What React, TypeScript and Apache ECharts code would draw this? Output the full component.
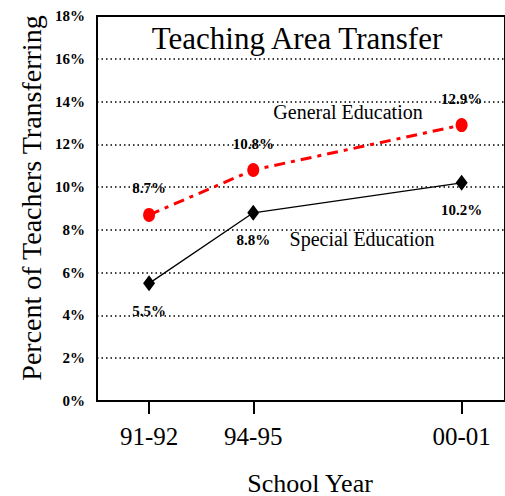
import React, { useEffect, useRef } from "react";
import * as echarts from "echarts";

const years = [1991, 1994, 2000];
const yearLabels = ["91-92", "94-95", "00-01"];
const generalEd = [8.7, 10.8, 12.9];
const specialEd = [5.5, 8.8, 10.2];
const yTicks = [0, 2, 4, 6, 8, 10, 12, 14, 16, 18];

const SERIF = "'Liberation Serif', 'Times New Roman', serif";

export default function App() {
  const ref = useRef<HTMLDivElement>(null);
  useEffect(() => {
    if (!ref.current) return;
    const chart = echarts.init(ref.current, undefined, { renderer: "svg" });
    const pct = (p: any) => p.value[1].toFixed(1) + "%";
    chart.setOption({
      animation: false,
      backgroundColor: "#fff",
      grid: {
        left: 97,
        right: -3,
        top: 16,
        bottom: 95,
        show: true,
        borderColor: "#000",
        borderWidth: 2,
        backgroundColor: "transparent",
      },
      xAxis: {
        type: "value",
        min: 1989.5,
        max: 2001.25,
        axisLine: { show: true, lineStyle: { color: "#000", width: 2 } },
        splitLine: { show: false },
        axisTick: {
          show: true,
          customValues: years,
          length: 13,
          lineStyle: { color: "#000", width: 2 },
        },
        axisLabel: {
          customValues: years,
          formatter: (v: number) => yearLabels[years.indexOf(v)] ?? "",
          fontFamily: SERIF,
          fontSize: 25,
          color: "#000",
          margin: 23,
        },
      },
      yAxis: {
        type: "value",
        min: yTicks[0],
        max: yTicks[yTicks.length - 1],
        interval: 2,
        axisLine: { show: true, lineStyle: { color: "#000", width: 2 } },
        axisTick: { show: false },
        splitLine: {
          show: true,
          lineStyle: { color: "#000", width: 1.5, type: [1.5, 3] },
        },
        axisLabel: {
          formatter: "{value}%",
          fontFamily: SERIF,
          fontWeight: "bold",
          fontSize: 15,
          color: "#000",
          margin: 12,
        },
      },
      series: [
        {
          name: "General Education",
          type: "line",
          data: years.map((y, i) => [y, generalEd[i]]),
          symbol: "circle",
          symbolSize: [12, 14],
          itemStyle: { color: "#ff0000" },
          lineStyle: { color: "#ff0000", width: 3, type: [11, 6, 4, 6] },
          label: {
            show: true,
            position: "top",
            distance: 12,
            formatter: pct,
            fontFamily: SERIF,
            fontWeight: "bold",
            fontSize: 15,
            color: "#000",
          },
          z: 3,
        },
        {
          name: "Special Education",
          type: "line",
          data: years.map((y, i) => [y, specialEd[i]]),
          symbol: "diamond",
          symbolSize: [12, 16],
          itemStyle: { color: "#000" },
          lineStyle: { color: "#000", width: 1.3 },
          label: {
            show: true,
            position: "bottom",
            distance: 12,
            formatter: pct,
            fontFamily: SERIF,
            fontWeight: "bold",
            fontSize: 15,
            color: "#000",
          },
          z: 3,
        },
      ],
      graphic: [
        {
          type: "text",
          x: 297,
          y: 38,
          style: {
            text: "Teaching Area Transfer",
            fontFamily: SERIF,
            fontSize: 31,
            fill: "#000",
            align: "center",
            verticalAlign: "middle",
          },
        },
        {
          type: "text",
          x: 348,
          y: 112,
          style: {
            text: "General Education",
            fontFamily: SERIF,
            fontSize: 20,
            fill: "#000",
            align: "center",
            verticalAlign: "middle",
          },
        },
        {
          type: "text",
          x: 362,
          y: 239,
          style: {
            text: "Special Education",
            fontFamily: SERIF,
            fontSize: 20,
            fill: "#000",
            align: "center",
            verticalAlign: "middle",
          },
        },
        {
          type: "text",
          x: 31,
          y: 198,
          rotation: Math.PI / 2,
          style: {
            text: "Percent of Teachers Transferring",
            fontFamily: SERIF,
            fontSize: 28,
            fill: "#000",
            align: "center",
            verticalAlign: "middle",
          },
        },
        {
          type: "text",
          x: 310,
          y: 483,
          style: {
            text: "School Year",
            fontFamily: SERIF,
            fontSize: 26,
            fill: "#000",
            align: "center",
            verticalAlign: "middle",
          },
        },
      ],
    });
    return () => chart.dispose();
  }, []);
  return (
    <div
      ref={ref}
      style={{ position: "absolute", left: 0, top: 0, width: 505, height: 496 }}
    />
  );
}
